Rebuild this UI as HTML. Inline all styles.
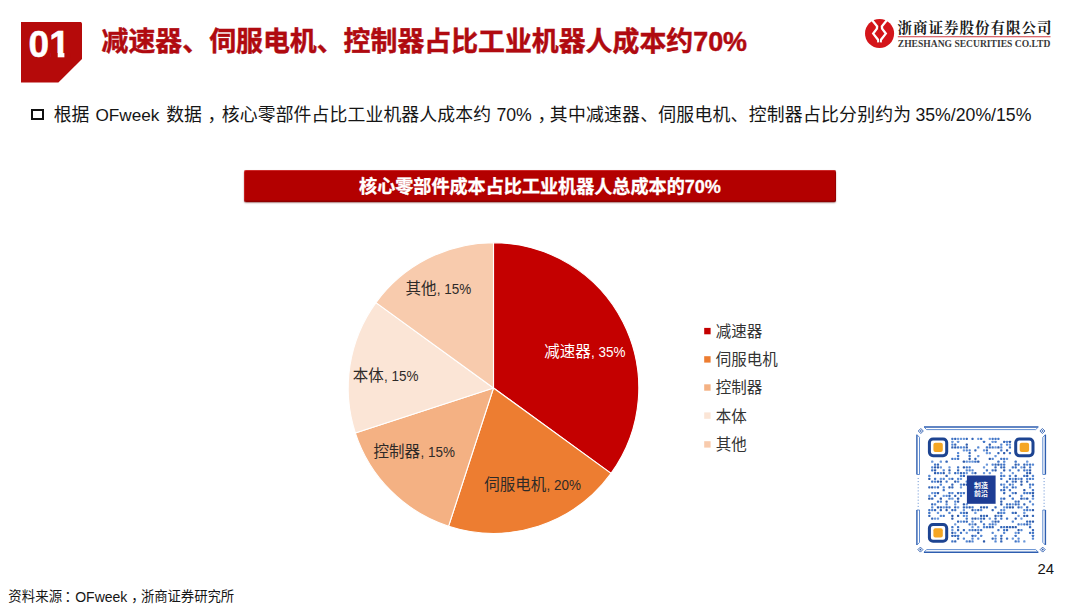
<!DOCTYPE html>
<html lang="zh-CN">
<head>
<meta charset="utf-8">
<title>减速器、伺服电机、控制器占比工业机器人成本约70%</title>
<style>
  html,body{margin:0;padding:0;background:#fff;}
  body{width:1080px;height:608px;position:relative;overflow:hidden;
    font-family:"Liberation Sans","Noto Sans CJK SC",sans-serif;color:#111;}
  .abs{position:absolute;white-space:nowrap;}
  #badge{left:20.9px;top:22.1px;width:61.4px;height:60.5px;}
  #title{left:101.6px;top:23.3px;font-size:26.9px;line-height:38px;font-weight:bold;color:#b00a10;-webkit-text-stroke:0.45px #b00a10;}
  .bl{top:101.7px;font-size:17.85px;line-height:26px;color:#151515;}
  .bl.en{font-size:17.7px;}
  #sq{left:31px;top:108.7px;width:8.7px;height:7.4px;border:2px solid #111;}
  #banner{left:244.3px;top:170.4px;-webkit-text-stroke:0.3px #fff;width:591.4px;height:32px;background:#b30000;color:#fff;border-radius:2px;
    font-weight:bold;font-size:18.1px;line-height:35px;text-align:center;
    box-shadow:inset 0 1px 0 rgba(255,120,120,.35), inset 1px 0 0 rgba(255,120,120,.25), inset 0 -1.5px 0 rgba(90,0,0,.4), inset -1px 0 0 rgba(90,0,0,.3), 0 1px 1.5px rgba(90,0,0,.5);}
  .src{top:587px;font-size:13.4px;line-height:20px;color:#151515;}
  .src.en{font-size:14px;}
  #pageno{left:1037.5px;top:558.8px;font-size:14.9px;line-height:20px;color:#151515;}
  #gfx{left:0;top:0;}
</style>
</head>
<body>

<svg id="badge" class="abs" viewBox="0 0 61.4 60.5">
  <polygon points="0,0 60,0 61.4,1.6 61.4,36.6 37.4,60.5 0,60.5" fill="#b50a0a"/>
  <text x="7.6" y="34.8" font-family="Liberation Sans, sans-serif" font-weight="bold" font-size="37" fill="#fff" stroke="#fff" stroke-width="0.5">01</text>
  <rect x="29.5" y="31" width="7.2" height="5" fill="#b50a0a"/><rect x="43.4" y="31" width="6" height="5" fill="#b50a0a"/>
</svg>

<div id="title" class="abs">减速器、伺服电机、控制器占比工业机器人成本约70%</div>

<div id="sq" class="abs"></div>
<span class="abs bl" style="left:53.7px">根据</span>
<span class="abs bl en" style="left:95.4px;font-size:17.2px">OFweek</span>
<span class="abs bl" style="left:166.2px">数据</span>
<span class="abs bl" style="left:207.4px">，</span>
<span class="abs bl" style="left:221.8px;letter-spacing:.11px">核心零部件占比工业机器人成本约</span>
<span class="abs bl en" style="left:496.4px">70%</span>
<span class="abs bl" style="left:537.4px">，</span>
<span class="abs bl" style="left:549.8px;letter-spacing:.235px">其中减速器、伺服电机、控制器占比分别约为</span>
<span class="abs bl en" style="left:915.4px">35%/20%/15%</span>

<div id="banner" class="abs">核心零部件成本占比工业机器人总成本的70%</div>

<svg id="gfx" class="abs" width="1080" height="608" viewBox="0 0 1080 608" font-family="Liberation Sans, Noto Sans CJK SC, sans-serif">
  <g id="pie">
  <path d="M493.5,388.0 L493.50,242.70 A145.3,145.3 0 0 1 611.05,473.41 Z" fill="#c40000" stroke="#fff" stroke-width="1.1" stroke-linejoin="round"/>
  <path d="M493.5,388.0 L611.05,473.41 A145.3,145.3 0 0 1 448.60,526.19 Z" fill="#ed7d31" stroke="#fff" stroke-width="1.1" stroke-linejoin="round"/>
  <path d="M493.5,388.0 L448.60,526.19 A145.3,145.3 0 0 1 355.31,432.90 Z" fill="#f4b183" stroke="#fff" stroke-width="1.1" stroke-linejoin="round"/>
  <path d="M493.5,388.0 L355.31,432.90 A145.3,145.3 0 0 1 375.95,302.59 Z" fill="#fbe5d6" stroke="#fff" stroke-width="1.1" stroke-linejoin="round"/>
  <path d="M493.5,388.0 L375.95,302.59 A145.3,145.3 0 0 1 493.50,242.70 Z" fill="#f8cbad" stroke="#fff" stroke-width="1.1" stroke-linejoin="round"/>
  </g>
  <g id="labels">
  <text x="544.2" y="356.7" fill="#fff" font-size="15.5">减速器</text><text transform="translate(591.0,356.7) scale(0.93,1)" fill="#fff" font-size="14.5">, 35%</text>
  <text x="484.2" y="490.3" fill="#2e2a28" font-size="15.5">伺服电机</text><text transform="translate(546.5,490.3) scale(0.93,1)" fill="#2e2a28" font-size="14.5">, 20%</text>
  <text x="373.6" y="457.0" fill="#2e2a28" font-size="15.5">控制器</text><text transform="translate(420.4,457.0) scale(0.93,1)" fill="#2e2a28" font-size="14.5">, 15%</text>
  <text x="352.8" y="381.2" fill="#2e2a28" font-size="15.5">本体</text><text transform="translate(384.1,381.2) scale(0.93,1)" fill="#2e2a28" font-size="14.5">, 15%</text>
  <text x="405.4" y="294.3" fill="#2e2a28" font-size="15.5">其他</text><text transform="translate(436.7,294.3) scale(0.93,1)" fill="#2e2a28" font-size="14.5">, 15%</text>
  </g>
  <g id="legend" fill="#333">
  <rect x="704.2" y="327.9" width="6.4" height="6.4" fill="#c40000"/><text x="715.8" y="336.7" font-size="15.5">减速器</text>
  <rect x="704.2" y="356.2" width="6.4" height="6.4" fill="#ed7d31"/><text x="715.8" y="364.9" font-size="15.5">伺服电机</text>
  <rect x="704.2" y="384.3" width="6.4" height="6.4" fill="#f4b183"/><text x="715.8" y="393.0" font-size="15.5">控制器</text>
  <rect x="704.2" y="412.4" width="6.4" height="6.4" fill="#fbe5d6"/><text x="715.8" y="421.5" font-size="15.5">本体</text>
  <rect x="704.2" y="441.2" width="6.4" height="6.4" fill="#f8cbad"/><text x="715.8" y="449.9" font-size="15.5">其他</text>
  </g>
  <g id="logo">
<circle cx="879.55" cy="33.55" r="14.55" fill="#d4151a"/>
<path d="M871.0,18.8 L877.1,26.4 L876.9,28.6 L873.2,33.6 L878.2,40.0 L878.3,42.4" fill="none" stroke="#fff" stroke-width="2.3" stroke-linejoin="miter"/>
<path d="M888.0,18.8 L881.9,26.4 L882.1,28.6 L885.8,33.6 L880.8,40.0 L880.7,42.4" fill="none" stroke="#fff" stroke-width="2.3" stroke-linejoin="miter"/>
<path d="M879.5,24.5 V29.5 M879.5,38.8 V42.6" stroke="#7a1418" stroke-width="0.6"/>
<text x="897.6" y="33.1" font-family="Liberation Serif, Noto Serif CJK SC, serif" font-weight="700" font-size="14.6" fill="#1a1a1a" textLength="154" lengthAdjust="spacing">浙商证券股份有限公司</text>
<path d="M897.8,36.7 H1050.5" stroke="#cf3a3f" stroke-width="1.1"/>
<text x="897.8" y="46.7" font-family="Liberation Serif, serif" font-weight="bold" font-size="10" fill="#3a3a3a" textLength="152.5" lengthAdjust="spacingAndGlyphs">ZHESHANG SECURITIES CO.LTD</text>
</g>
  <g id="qr"><path d="M924.0,427.0 H1038.3 M924.0,552.2 H1038.3" stroke="#2e5eb0" stroke-width="1.4" fill="none"/><path d="M924.0,427.0 L926.6,429.6 H1035.7 L1038.3,427.0 M924.0,552.2 L926.6,549.6 H1035.7 L1038.3,552.2" stroke="#4f80cc" stroke-width="0.9" fill="none"/><path d="M916.9,434.7 V474.5" stroke="#2e5eb0" stroke-width="1.4" fill="none"/><path d="M916.9,434.7 L919.5,437.3 V474.5 H916.9" stroke="#4f80cc" stroke-width="0.9" fill="none"/><path d="M916.9,510.0 V545.0" stroke="#2e5eb0" stroke-width="1.4" fill="none"/><path d="M916.9,510.0 H919.5 V542.4 L916.9,545.0" stroke="#4f80cc" stroke-width="0.9" fill="none"/><path d="M918.1999999999999,478 V507" stroke="#4f80cc" stroke-width="0.9" stroke-dasharray="1 2.1" fill="none"/><path d="M1045.4,434.7 V474.5" stroke="#2e5eb0" stroke-width="1.4" fill="none"/><path d="M1045.4,434.7 L1042.8000000000002,437.3 V474.5 H1045.4" stroke="#4f80cc" stroke-width="0.9" fill="none"/><path d="M1045.4,510.0 V545.0" stroke="#2e5eb0" stroke-width="1.4" fill="none"/><path d="M1045.4,510.0 H1042.8000000000002 V542.4 L1045.4,545.0" stroke="#4f80cc" stroke-width="0.9" fill="none"/><path d="M1044.1000000000001,478 V507" stroke="#4f80cc" stroke-width="0.9" stroke-dasharray="1 2.1" fill="none"/><path d="M920.8,428.5 L923.3,431.0 L920.8,433.5 L918.3,431.0 Z" fill="#fff" stroke="#2e5eb0" stroke-width="0.9"/><path d="M920.8,429.9 L921.9,431.0 L920.8,432.1 L919.6999999999999,431.0 Z" fill="#2e5eb0"/><path d="M1042.4,428.5 L1044.9,431.0 L1042.4,433.5 L1039.9,431.0 Z" fill="#fff" stroke="#2e5eb0" stroke-width="0.9"/><path d="M1042.4,429.9 L1043.5,431.0 L1042.4,432.1 L1041.3000000000002,431.0 Z" fill="#2e5eb0"/><path d="M920.4,547.1 L922.9,549.6 L920.4,552.1 L917.9,549.6 Z" fill="#fff" stroke="#2e5eb0" stroke-width="0.9"/><path d="M920.4,548.5 L921.5,549.6 L920.4,550.7 L919.3,549.6 Z" fill="#2e5eb0"/><path d="M1042.7,547.1 L1045.2,549.6 L1042.7,552.1 L1040.2,549.6 Z" fill="#fff" stroke="#2e5eb0" stroke-width="0.9"/><path d="M1042.7,548.5 L1043.8,549.6 L1042.7,550.7 L1041.6000000000001,549.6 Z" fill="#2e5eb0"/><rect x="951.23" y="437.80" width="2.28" height="2.25" rx="0.7" fill="#4175c6"/><rect x="954.11" y="437.80" width="2.28" height="2.25" rx="0.7" fill="#3466b8"/><rect x="956.98" y="437.80" width="2.28" height="2.25" rx="0.7" fill="#6a97da"/><rect x="959.86" y="437.80" width="2.28" height="2.25" rx="0.7" fill="#6a97da"/><rect x="962.74" y="437.80" width="2.28" height="2.25" rx="0.7" fill="#6a97da"/><rect x="965.62" y="437.80" width="2.28" height="2.25" rx="0.7" fill="#3466b8"/><rect x="971.38" y="437.80" width="2.28" height="2.25" rx="0.7" fill="#3466b8"/><rect x="977.13" y="437.80" width="2.28" height="2.25" rx="0.7" fill="#6a97da"/><rect x="980.01" y="437.80" width="2.28" height="2.25" rx="0.7" fill="#4175c6"/><rect x="988.65" y="437.80" width="2.28" height="2.25" rx="0.7" fill="#6a97da"/><rect x="991.52" y="437.80" width="2.28" height="2.25" rx="0.7" fill="#4175c6"/><rect x="994.40" y="437.80" width="2.28" height="2.25" rx="0.7" fill="#4175c6"/><rect x="997.28" y="437.80" width="2.28" height="2.25" rx="0.7" fill="#4175c6"/><rect x="951.23" y="440.65" width="2.28" height="2.25" rx="0.7" fill="#6a97da"/><rect x="956.98" y="440.65" width="2.28" height="2.25" rx="0.7" fill="#6a97da"/><rect x="982.89" y="440.65" width="2.28" height="2.25" rx="0.7" fill="#4175c6"/><rect x="991.52" y="440.65" width="2.28" height="2.25" rx="0.7" fill="#6a97da"/><rect x="994.40" y="440.65" width="2.28" height="2.25" rx="0.7" fill="#5587d3"/><rect x="1003.04" y="440.65" width="2.28" height="2.25" rx="0.7" fill="#3466b8"/><rect x="1005.92" y="440.65" width="2.28" height="2.25" rx="0.7" fill="#5587d3"/><rect x="1008.79" y="440.65" width="2.28" height="2.25" rx="0.7" fill="#2d5bab"/><rect x="951.23" y="443.50" width="2.28" height="2.25" rx="0.7" fill="#5587d3"/><rect x="954.11" y="443.50" width="2.28" height="2.25" rx="0.7" fill="#3466b8"/><rect x="965.62" y="443.50" width="2.28" height="2.25" rx="0.7" fill="#2d5bab"/><rect x="988.65" y="443.50" width="2.28" height="2.25" rx="0.7" fill="#2d5bab"/><rect x="1000.16" y="443.50" width="2.28" height="2.25" rx="0.7" fill="#5587d3"/><rect x="1005.92" y="443.50" width="2.28" height="2.25" rx="0.7" fill="#5587d3"/><rect x="1008.79" y="443.50" width="2.28" height="2.25" rx="0.7" fill="#6a97da"/><rect x="951.23" y="446.35" width="2.28" height="2.25" rx="0.7" fill="#3466b8"/><rect x="954.11" y="446.35" width="2.28" height="2.25" rx="0.7" fill="#2d5bab"/><rect x="956.98" y="446.35" width="2.28" height="2.25" rx="0.7" fill="#4175c6"/><rect x="959.86" y="446.35" width="2.28" height="2.25" rx="0.7" fill="#5587d3"/><rect x="962.74" y="446.35" width="2.28" height="2.25" rx="0.7" fill="#5587d3"/><rect x="965.62" y="446.35" width="2.28" height="2.25" rx="0.7" fill="#2d5bab"/><rect x="977.13" y="446.35" width="2.28" height="2.25" rx="0.7" fill="#5587d3"/><rect x="985.77" y="446.35" width="2.28" height="2.25" rx="0.7" fill="#4175c6"/><rect x="988.65" y="446.35" width="2.28" height="2.25" rx="0.7" fill="#4175c6"/><rect x="991.52" y="446.35" width="2.28" height="2.25" rx="0.7" fill="#4175c6"/><rect x="994.40" y="446.35" width="2.28" height="2.25" rx="0.7" fill="#6a97da"/><rect x="997.28" y="446.35" width="2.28" height="2.25" rx="0.7" fill="#2d5bab"/><rect x="1000.16" y="446.35" width="2.28" height="2.25" rx="0.7" fill="#5587d3"/><rect x="1008.79" y="446.35" width="2.28" height="2.25" rx="0.7" fill="#4175c6"/><rect x="962.74" y="449.19" width="2.28" height="2.25" rx="0.7" fill="#6a97da"/><rect x="965.62" y="449.19" width="2.28" height="2.25" rx="0.7" fill="#5587d3"/><rect x="968.50" y="449.19" width="2.28" height="2.25" rx="0.7" fill="#5587d3"/><rect x="974.25" y="449.19" width="2.28" height="2.25" rx="0.7" fill="#3466b8"/><rect x="982.89" y="449.19" width="2.28" height="2.25" rx="0.7" fill="#6a97da"/><rect x="985.77" y="449.19" width="2.28" height="2.25" rx="0.7" fill="#3466b8"/><rect x="1000.16" y="449.19" width="2.28" height="2.25" rx="0.7" fill="#4175c6"/><rect x="1005.92" y="449.19" width="2.28" height="2.25" rx="0.7" fill="#2d5bab"/><rect x="956.98" y="452.04" width="2.28" height="2.25" rx="0.7" fill="#5587d3"/><rect x="968.50" y="452.04" width="2.28" height="2.25" rx="0.7" fill="#3466b8"/><rect x="985.77" y="452.04" width="2.28" height="2.25" rx="0.7" fill="#6a97da"/><rect x="988.65" y="452.04" width="2.28" height="2.25" rx="0.7" fill="#6a97da"/><rect x="997.28" y="452.04" width="2.28" height="2.25" rx="0.7" fill="#3466b8"/><rect x="1003.04" y="452.04" width="2.28" height="2.25" rx="0.7" fill="#2d5bab"/><rect x="1008.79" y="452.04" width="2.28" height="2.25" rx="0.7" fill="#4175c6"/><rect x="956.98" y="454.89" width="2.28" height="2.25" rx="0.7" fill="#4175c6"/><rect x="968.50" y="454.89" width="2.28" height="2.25" rx="0.7" fill="#4175c6"/><rect x="977.13" y="454.89" width="2.28" height="2.25" rx="0.7" fill="#6a97da"/><rect x="994.40" y="454.89" width="2.28" height="2.25" rx="0.7" fill="#6a97da"/><rect x="951.23" y="457.74" width="2.28" height="2.25" rx="0.7" fill="#4175c6"/><rect x="954.11" y="457.74" width="2.28" height="2.25" rx="0.7" fill="#5587d3"/><rect x="956.98" y="457.74" width="2.28" height="2.25" rx="0.7" fill="#4175c6"/><rect x="968.50" y="457.74" width="2.28" height="2.25" rx="0.7" fill="#2d5bab"/><rect x="974.25" y="457.74" width="2.28" height="2.25" rx="0.7" fill="#3466b8"/><rect x="988.65" y="457.74" width="2.28" height="2.25" rx="0.7" fill="#2d5bab"/><rect x="991.52" y="457.74" width="2.28" height="2.25" rx="0.7" fill="#5587d3"/><rect x="1000.16" y="457.74" width="2.28" height="2.25" rx="0.7" fill="#4175c6"/><rect x="1003.04" y="457.74" width="2.28" height="2.25" rx="0.7" fill="#4175c6"/><rect x="1005.92" y="457.74" width="2.28" height="2.25" rx="0.7" fill="#6a97da"/><rect x="931.08" y="460.59" width="2.28" height="2.25" rx="0.7" fill="#6a97da"/><rect x="939.71" y="460.59" width="2.28" height="2.25" rx="0.7" fill="#6a97da"/><rect x="945.47" y="460.59" width="2.28" height="2.25" rx="0.7" fill="#3466b8"/><rect x="962.74" y="460.59" width="2.28" height="2.25" rx="0.7" fill="#2d5bab"/><rect x="965.62" y="460.59" width="2.28" height="2.25" rx="0.7" fill="#6a97da"/><rect x="968.50" y="460.59" width="2.28" height="2.25" rx="0.7" fill="#6a97da"/><rect x="971.38" y="460.59" width="2.28" height="2.25" rx="0.7" fill="#6a97da"/><rect x="974.25" y="460.59" width="2.28" height="2.25" rx="0.7" fill="#4175c6"/><rect x="977.13" y="460.59" width="2.28" height="2.25" rx="0.7" fill="#2d5bab"/><rect x="997.28" y="460.59" width="2.28" height="2.25" rx="0.7" fill="#4175c6"/><rect x="1003.04" y="460.59" width="2.28" height="2.25" rx="0.7" fill="#5587d3"/><rect x="1014.55" y="460.59" width="2.28" height="2.25" rx="0.7" fill="#4175c6"/><rect x="1026.06" y="460.59" width="2.28" height="2.25" rx="0.7" fill="#6a97da"/><rect x="933.96" y="463.44" width="2.28" height="2.25" rx="0.7" fill="#4175c6"/><rect x="936.84" y="463.44" width="2.28" height="2.25" rx="0.7" fill="#3466b8"/><rect x="985.77" y="463.44" width="2.28" height="2.25" rx="0.7" fill="#6a97da"/><rect x="991.52" y="463.44" width="2.28" height="2.25" rx="0.7" fill="#5587d3"/><rect x="994.40" y="463.44" width="2.28" height="2.25" rx="0.7" fill="#3466b8"/><rect x="997.28" y="463.44" width="2.28" height="2.25" rx="0.7" fill="#2d5bab"/><rect x="1000.16" y="463.44" width="2.28" height="2.25" rx="0.7" fill="#4175c6"/><rect x="1003.04" y="463.44" width="2.28" height="2.25" rx="0.7" fill="#4175c6"/><rect x="1014.55" y="463.44" width="2.28" height="2.25" rx="0.7" fill="#2d5bab"/><rect x="1017.43" y="463.44" width="2.28" height="2.25" rx="0.7" fill="#4175c6"/><rect x="1023.19" y="463.44" width="2.28" height="2.25" rx="0.7" fill="#3466b8"/><rect x="1026.06" y="463.44" width="2.28" height="2.25" rx="0.7" fill="#5587d3"/><rect x="1028.94" y="463.44" width="2.28" height="2.25" rx="0.7" fill="#4175c6"/><rect x="1031.82" y="463.44" width="2.28" height="2.25" rx="0.7" fill="#5587d3"/><rect x="931.08" y="466.29" width="2.28" height="2.25" rx="0.7" fill="#5587d3"/><rect x="933.96" y="466.29" width="2.28" height="2.25" rx="0.7" fill="#2d5bab"/><rect x="936.84" y="466.29" width="2.28" height="2.25" rx="0.7" fill="#2d5bab"/><rect x="939.71" y="466.29" width="2.28" height="2.25" rx="0.7" fill="#6a97da"/><rect x="948.35" y="466.29" width="2.28" height="2.25" rx="0.7" fill="#6a97da"/><rect x="956.98" y="466.29" width="2.28" height="2.25" rx="0.7" fill="#4175c6"/><rect x="962.74" y="466.29" width="2.28" height="2.25" rx="0.7" fill="#2d5bab"/><rect x="965.62" y="466.29" width="2.28" height="2.25" rx="0.7" fill="#4175c6"/><rect x="968.50" y="466.29" width="2.28" height="2.25" rx="0.7" fill="#4175c6"/><rect x="982.89" y="466.29" width="2.28" height="2.25" rx="0.7" fill="#6a97da"/><rect x="994.40" y="466.29" width="2.28" height="2.25" rx="0.7" fill="#3466b8"/><rect x="1000.16" y="466.29" width="2.28" height="2.25" rx="0.7" fill="#3466b8"/><rect x="1003.04" y="466.29" width="2.28" height="2.25" rx="0.7" fill="#3466b8"/><rect x="1011.67" y="466.29" width="2.28" height="2.25" rx="0.7" fill="#4175c6"/><rect x="1014.55" y="466.29" width="2.28" height="2.25" rx="0.7" fill="#3466b8"/><rect x="1020.31" y="466.29" width="2.28" height="2.25" rx="0.7" fill="#6a97da"/><rect x="1023.19" y="466.29" width="2.28" height="2.25" rx="0.7" fill="#2d5bab"/><rect x="1028.94" y="466.29" width="2.28" height="2.25" rx="0.7" fill="#4175c6"/><rect x="931.08" y="469.14" width="2.28" height="2.25" rx="0.7" fill="#4175c6"/><rect x="933.96" y="469.14" width="2.28" height="2.25" rx="0.7" fill="#2d5bab"/><rect x="942.59" y="469.14" width="2.28" height="2.25" rx="0.7" fill="#5587d3"/><rect x="948.35" y="469.14" width="2.28" height="2.25" rx="0.7" fill="#2d5bab"/><rect x="956.98" y="469.14" width="2.28" height="2.25" rx="0.7" fill="#3466b8"/><rect x="965.62" y="469.14" width="2.28" height="2.25" rx="0.7" fill="#5587d3"/><rect x="968.50" y="469.14" width="2.28" height="2.25" rx="0.7" fill="#5587d3"/><rect x="971.38" y="469.14" width="2.28" height="2.25" rx="0.7" fill="#5587d3"/><rect x="985.77" y="469.14" width="2.28" height="2.25" rx="0.7" fill="#4175c6"/><rect x="991.52" y="469.14" width="2.28" height="2.25" rx="0.7" fill="#4175c6"/><rect x="994.40" y="469.14" width="2.28" height="2.25" rx="0.7" fill="#2d5bab"/><rect x="1003.04" y="469.14" width="2.28" height="2.25" rx="0.7" fill="#2d5bab"/><rect x="1008.79" y="469.14" width="2.28" height="2.25" rx="0.7" fill="#5587d3"/><rect x="1017.43" y="469.14" width="2.28" height="2.25" rx="0.7" fill="#4175c6"/><rect x="1023.19" y="469.14" width="2.28" height="2.25" rx="0.7" fill="#4175c6"/><rect x="1026.06" y="469.14" width="2.28" height="2.25" rx="0.7" fill="#5587d3"/><rect x="1028.94" y="469.14" width="2.28" height="2.25" rx="0.7" fill="#2d5bab"/><rect x="933.96" y="471.98" width="2.28" height="2.25" rx="0.7" fill="#2d5bab"/><rect x="936.84" y="471.98" width="2.28" height="2.25" rx="0.7" fill="#4175c6"/><rect x="939.71" y="471.98" width="2.28" height="2.25" rx="0.7" fill="#5587d3"/><rect x="942.59" y="471.98" width="2.28" height="2.25" rx="0.7" fill="#2d5bab"/><rect x="948.35" y="471.98" width="2.28" height="2.25" rx="0.7" fill="#6a97da"/><rect x="954.11" y="471.98" width="2.28" height="2.25" rx="0.7" fill="#3466b8"/><rect x="956.98" y="471.98" width="2.28" height="2.25" rx="0.7" fill="#6a97da"/><rect x="959.86" y="471.98" width="2.28" height="2.25" rx="0.7" fill="#3466b8"/><rect x="962.74" y="471.98" width="2.28" height="2.25" rx="0.7" fill="#4175c6"/><rect x="965.62" y="471.98" width="2.28" height="2.25" rx="0.7" fill="#6a97da"/><rect x="971.38" y="471.98" width="2.28" height="2.25" rx="0.7" fill="#6a97da"/><rect x="974.25" y="471.98" width="2.28" height="2.25" rx="0.7" fill="#2d5bab"/><rect x="982.89" y="471.98" width="2.28" height="2.25" rx="0.7" fill="#6a97da"/><rect x="988.65" y="471.98" width="2.28" height="2.25" rx="0.7" fill="#6a97da"/><rect x="1000.16" y="471.98" width="2.28" height="2.25" rx="0.7" fill="#6a97da"/><rect x="1011.67" y="471.98" width="2.28" height="2.25" rx="0.7" fill="#6a97da"/><rect x="1026.06" y="471.98" width="2.28" height="2.25" rx="0.7" fill="#3466b8"/><rect x="1028.94" y="471.98" width="2.28" height="2.25" rx="0.7" fill="#2d5bab"/><rect x="928.20" y="474.83" width="2.28" height="2.25" rx="0.7" fill="#5587d3"/><rect x="945.47" y="474.83" width="2.28" height="2.25" rx="0.7" fill="#3466b8"/><rect x="959.86" y="474.83" width="2.28" height="2.25" rx="0.7" fill="#5587d3"/><rect x="962.74" y="474.83" width="2.28" height="2.25" rx="0.7" fill="#3466b8"/><rect x="1000.16" y="474.83" width="2.28" height="2.25" rx="0.7" fill="#4175c6"/><rect x="1003.04" y="474.83" width="2.28" height="2.25" rx="0.7" fill="#5587d3"/><rect x="1008.79" y="474.83" width="2.28" height="2.25" rx="0.7" fill="#5587d3"/><rect x="1014.55" y="474.83" width="2.28" height="2.25" rx="0.7" fill="#3466b8"/><rect x="1023.19" y="474.83" width="2.28" height="2.25" rx="0.7" fill="#4175c6"/><rect x="1026.06" y="474.83" width="2.28" height="2.25" rx="0.7" fill="#2d5bab"/><rect x="1031.82" y="474.83" width="2.28" height="2.25" rx="0.7" fill="#5587d3"/><rect x="928.20" y="477.68" width="2.28" height="2.25" rx="0.7" fill="#2d5bab"/><rect x="933.96" y="477.68" width="2.28" height="2.25" rx="0.7" fill="#4175c6"/><rect x="939.71" y="477.68" width="2.28" height="2.25" rx="0.7" fill="#6a97da"/><rect x="942.59" y="477.68" width="2.28" height="2.25" rx="0.7" fill="#5587d3"/><rect x="948.35" y="477.68" width="2.28" height="2.25" rx="0.7" fill="#6a97da"/><rect x="951.23" y="477.68" width="2.28" height="2.25" rx="0.7" fill="#3466b8"/><rect x="956.98" y="477.68" width="2.28" height="2.25" rx="0.7" fill="#5587d3"/><rect x="959.86" y="477.68" width="2.28" height="2.25" rx="0.7" fill="#6a97da"/><rect x="1000.16" y="477.68" width="2.28" height="2.25" rx="0.7" fill="#4175c6"/><rect x="1008.79" y="477.68" width="2.28" height="2.25" rx="0.7" fill="#3466b8"/><rect x="1011.67" y="477.68" width="2.28" height="2.25" rx="0.7" fill="#6a97da"/><rect x="1014.55" y="477.68" width="2.28" height="2.25" rx="0.7" fill="#2d5bab"/><rect x="1017.43" y="477.68" width="2.28" height="2.25" rx="0.7" fill="#6a97da"/><rect x="1020.31" y="477.68" width="2.28" height="2.25" rx="0.7" fill="#3466b8"/><rect x="1026.06" y="477.68" width="2.28" height="2.25" rx="0.7" fill="#5587d3"/><rect x="1028.94" y="477.68" width="2.28" height="2.25" rx="0.7" fill="#4175c6"/><rect x="1031.82" y="477.68" width="2.28" height="2.25" rx="0.7" fill="#5587d3"/><rect x="931.08" y="480.53" width="2.28" height="2.25" rx="0.7" fill="#4175c6"/><rect x="933.96" y="480.53" width="2.28" height="2.25" rx="0.7" fill="#5587d3"/><rect x="936.84" y="480.53" width="2.28" height="2.25" rx="0.7" fill="#2d5bab"/><rect x="939.71" y="480.53" width="2.28" height="2.25" rx="0.7" fill="#2d5bab"/><rect x="945.47" y="480.53" width="2.28" height="2.25" rx="0.7" fill="#4175c6"/><rect x="954.11" y="480.53" width="2.28" height="2.25" rx="0.7" fill="#2d5bab"/><rect x="956.98" y="480.53" width="2.28" height="2.25" rx="0.7" fill="#5587d3"/><rect x="965.62" y="480.53" width="2.28" height="2.25" rx="0.7" fill="#5587d3"/><rect x="1005.92" y="480.53" width="2.28" height="2.25" rx="0.7" fill="#3466b8"/><rect x="1011.67" y="480.53" width="2.28" height="2.25" rx="0.7" fill="#4175c6"/><rect x="1014.55" y="480.53" width="2.28" height="2.25" rx="0.7" fill="#2d5bab"/><rect x="1020.31" y="480.53" width="2.28" height="2.25" rx="0.7" fill="#2d5bab"/><rect x="1026.06" y="480.53" width="2.28" height="2.25" rx="0.7" fill="#3466b8"/><rect x="939.71" y="483.38" width="2.28" height="2.25" rx="0.7" fill="#5587d3"/><rect x="951.23" y="483.38" width="2.28" height="2.25" rx="0.7" fill="#3466b8"/><rect x="959.86" y="483.38" width="2.28" height="2.25" rx="0.7" fill="#5587d3"/><rect x="962.74" y="483.38" width="2.28" height="2.25" rx="0.7" fill="#2d5bab"/><rect x="965.62" y="483.38" width="2.28" height="2.25" rx="0.7" fill="#2d5bab"/><rect x="1000.16" y="483.38" width="2.28" height="2.25" rx="0.7" fill="#4175c6"/><rect x="1003.04" y="483.38" width="2.28" height="2.25" rx="0.7" fill="#6a97da"/><rect x="1008.79" y="483.38" width="2.28" height="2.25" rx="0.7" fill="#4175c6"/><rect x="1011.67" y="483.38" width="2.28" height="2.25" rx="0.7" fill="#6a97da"/><rect x="1020.31" y="483.38" width="2.28" height="2.25" rx="0.7" fill="#2d5bab"/><rect x="1028.94" y="483.38" width="2.28" height="2.25" rx="0.7" fill="#4175c6"/><rect x="1031.82" y="483.38" width="2.28" height="2.25" rx="0.7" fill="#4175c6"/><rect x="928.20" y="486.23" width="2.28" height="2.25" rx="0.7" fill="#3466b8"/><rect x="931.08" y="486.23" width="2.28" height="2.25" rx="0.7" fill="#2d5bab"/><rect x="933.96" y="486.23" width="2.28" height="2.25" rx="0.7" fill="#6a97da"/><rect x="936.84" y="486.23" width="2.28" height="2.25" rx="0.7" fill="#3466b8"/><rect x="942.59" y="486.23" width="2.28" height="2.25" rx="0.7" fill="#5587d3"/><rect x="948.35" y="486.23" width="2.28" height="2.25" rx="0.7" fill="#2d5bab"/><rect x="951.23" y="486.23" width="2.28" height="2.25" rx="0.7" fill="#3466b8"/><rect x="959.86" y="486.23" width="2.28" height="2.25" rx="0.7" fill="#6a97da"/><rect x="1003.04" y="486.23" width="2.28" height="2.25" rx="0.7" fill="#4175c6"/><rect x="1005.92" y="486.23" width="2.28" height="2.25" rx="0.7" fill="#5587d3"/><rect x="1011.67" y="486.23" width="2.28" height="2.25" rx="0.7" fill="#3466b8"/><rect x="1014.55" y="486.23" width="2.28" height="2.25" rx="0.7" fill="#5587d3"/><rect x="1028.94" y="486.23" width="2.28" height="2.25" rx="0.7" fill="#5587d3"/><rect x="942.59" y="489.08" width="2.28" height="2.25" rx="0.7" fill="#4175c6"/><rect x="1000.16" y="489.08" width="2.28" height="2.25" rx="0.7" fill="#4175c6"/><rect x="1003.04" y="489.08" width="2.28" height="2.25" rx="0.7" fill="#3466b8"/><rect x="1008.79" y="489.08" width="2.28" height="2.25" rx="0.7" fill="#4175c6"/><rect x="1023.19" y="489.08" width="2.28" height="2.25" rx="0.7" fill="#2d5bab"/><rect x="1031.82" y="489.08" width="2.28" height="2.25" rx="0.7" fill="#4175c6"/><rect x="931.08" y="491.92" width="2.28" height="2.25" rx="0.7" fill="#6a97da"/><rect x="933.96" y="491.92" width="2.28" height="2.25" rx="0.7" fill="#5587d3"/><rect x="936.84" y="491.92" width="2.28" height="2.25" rx="0.7" fill="#2d5bab"/><rect x="948.35" y="491.92" width="2.28" height="2.25" rx="0.7" fill="#4175c6"/><rect x="951.23" y="491.92" width="2.28" height="2.25" rx="0.7" fill="#5587d3"/><rect x="956.98" y="491.92" width="2.28" height="2.25" rx="0.7" fill="#3466b8"/><rect x="959.86" y="491.92" width="2.28" height="2.25" rx="0.7" fill="#5587d3"/><rect x="962.74" y="491.92" width="2.28" height="2.25" rx="0.7" fill="#4175c6"/><rect x="1003.04" y="491.92" width="2.28" height="2.25" rx="0.7" fill="#3466b8"/><rect x="1011.67" y="491.92" width="2.28" height="2.25" rx="0.7" fill="#5587d3"/><rect x="1014.55" y="491.92" width="2.28" height="2.25" rx="0.7" fill="#2d5bab"/><rect x="1023.19" y="491.92" width="2.28" height="2.25" rx="0.7" fill="#4175c6"/><rect x="1026.06" y="491.92" width="2.28" height="2.25" rx="0.7" fill="#4175c6"/><rect x="1028.94" y="491.92" width="2.28" height="2.25" rx="0.7" fill="#4175c6"/><rect x="1031.82" y="491.92" width="2.28" height="2.25" rx="0.7" fill="#2d5bab"/><rect x="928.20" y="494.77" width="2.28" height="2.25" rx="0.7" fill="#6a97da"/><rect x="933.96" y="494.77" width="2.28" height="2.25" rx="0.7" fill="#4175c6"/><rect x="942.59" y="494.77" width="2.28" height="2.25" rx="0.7" fill="#6a97da"/><rect x="945.47" y="494.77" width="2.28" height="2.25" rx="0.7" fill="#5587d3"/><rect x="948.35" y="494.77" width="2.28" height="2.25" rx="0.7" fill="#3466b8"/><rect x="954.11" y="494.77" width="2.28" height="2.25" rx="0.7" fill="#3466b8"/><rect x="959.86" y="494.77" width="2.28" height="2.25" rx="0.7" fill="#5587d3"/><rect x="1008.79" y="494.77" width="2.28" height="2.25" rx="0.7" fill="#4175c6"/><rect x="1020.31" y="494.77" width="2.28" height="2.25" rx="0.7" fill="#5587d3"/><rect x="1031.82" y="494.77" width="2.28" height="2.25" rx="0.7" fill="#3466b8"/><rect x="928.20" y="497.62" width="2.28" height="2.25" rx="0.7" fill="#2d5bab"/><rect x="931.08" y="497.62" width="2.28" height="2.25" rx="0.7" fill="#3466b8"/><rect x="939.71" y="497.62" width="2.28" height="2.25" rx="0.7" fill="#2d5bab"/><rect x="948.35" y="497.62" width="2.28" height="2.25" rx="0.7" fill="#5587d3"/><rect x="951.23" y="497.62" width="2.28" height="2.25" rx="0.7" fill="#6a97da"/><rect x="956.98" y="497.62" width="2.28" height="2.25" rx="0.7" fill="#2d5bab"/><rect x="1000.16" y="497.62" width="2.28" height="2.25" rx="0.7" fill="#5587d3"/><rect x="1003.04" y="497.62" width="2.28" height="2.25" rx="0.7" fill="#3466b8"/><rect x="1011.67" y="497.62" width="2.28" height="2.25" rx="0.7" fill="#4175c6"/><rect x="1020.31" y="497.62" width="2.28" height="2.25" rx="0.7" fill="#2d5bab"/><rect x="1023.19" y="497.62" width="2.28" height="2.25" rx="0.7" fill="#6a97da"/><rect x="1026.06" y="497.62" width="2.28" height="2.25" rx="0.7" fill="#2d5bab"/><rect x="1031.82" y="497.62" width="2.28" height="2.25" rx="0.7" fill="#6a97da"/><rect x="936.84" y="500.47" width="2.28" height="2.25" rx="0.7" fill="#4175c6"/><rect x="939.71" y="500.47" width="2.28" height="2.25" rx="0.7" fill="#5587d3"/><rect x="945.47" y="500.47" width="2.28" height="2.25" rx="0.7" fill="#2d5bab"/><rect x="954.11" y="500.47" width="2.28" height="2.25" rx="0.7" fill="#5587d3"/><rect x="956.98" y="500.47" width="2.28" height="2.25" rx="0.7" fill="#2d5bab"/><rect x="1000.16" y="500.47" width="2.28" height="2.25" rx="0.7" fill="#2d5bab"/><rect x="1014.55" y="500.47" width="2.28" height="2.25" rx="0.7" fill="#4175c6"/><rect x="1017.43" y="500.47" width="2.28" height="2.25" rx="0.7" fill="#3466b8"/><rect x="1028.94" y="500.47" width="2.28" height="2.25" rx="0.7" fill="#5587d3"/><rect x="931.08" y="503.32" width="2.28" height="2.25" rx="0.7" fill="#3466b8"/><rect x="933.96" y="503.32" width="2.28" height="2.25" rx="0.7" fill="#5587d3"/><rect x="945.47" y="503.32" width="2.28" height="2.25" rx="0.7" fill="#5587d3"/><rect x="954.11" y="503.32" width="2.28" height="2.25" rx="0.7" fill="#6a97da"/><rect x="962.74" y="503.32" width="2.28" height="2.25" rx="0.7" fill="#2d5bab"/><rect x="965.62" y="503.32" width="2.28" height="2.25" rx="0.7" fill="#6a97da"/><rect x="1000.16" y="503.32" width="2.28" height="2.25" rx="0.7" fill="#2d5bab"/><rect x="1005.92" y="503.32" width="2.28" height="2.25" rx="0.7" fill="#4175c6"/><rect x="1008.79" y="503.32" width="2.28" height="2.25" rx="0.7" fill="#4175c6"/><rect x="1011.67" y="503.32" width="2.28" height="2.25" rx="0.7" fill="#6a97da"/><rect x="1014.55" y="503.32" width="2.28" height="2.25" rx="0.7" fill="#3466b8"/><rect x="1017.43" y="503.32" width="2.28" height="2.25" rx="0.7" fill="#4175c6"/><rect x="1023.19" y="503.32" width="2.28" height="2.25" rx="0.7" fill="#3466b8"/><rect x="1031.82" y="503.32" width="2.28" height="2.25" rx="0.7" fill="#5587d3"/><rect x="931.08" y="506.17" width="2.28" height="2.25" rx="0.7" fill="#5587d3"/><rect x="936.84" y="506.17" width="2.28" height="2.25" rx="0.7" fill="#2d5bab"/><rect x="939.71" y="506.17" width="2.28" height="2.25" rx="0.7" fill="#3466b8"/><rect x="942.59" y="506.17" width="2.28" height="2.25" rx="0.7" fill="#6a97da"/><rect x="945.47" y="506.17" width="2.28" height="2.25" rx="0.7" fill="#3466b8"/><rect x="948.35" y="506.17" width="2.28" height="2.25" rx="0.7" fill="#4175c6"/><rect x="954.11" y="506.17" width="2.28" height="2.25" rx="0.7" fill="#3466b8"/><rect x="956.98" y="506.17" width="2.28" height="2.25" rx="0.7" fill="#6a97da"/><rect x="962.74" y="506.17" width="2.28" height="2.25" rx="0.7" fill="#3466b8"/><rect x="965.62" y="506.17" width="2.28" height="2.25" rx="0.7" fill="#4175c6"/><rect x="968.50" y="506.17" width="2.28" height="2.25" rx="0.7" fill="#2d5bab"/><rect x="971.38" y="506.17" width="2.28" height="2.25" rx="0.7" fill="#4175c6"/><rect x="980.01" y="506.17" width="2.28" height="2.25" rx="0.7" fill="#2d5bab"/><rect x="982.89" y="506.17" width="2.28" height="2.25" rx="0.7" fill="#2d5bab"/><rect x="985.77" y="506.17" width="2.28" height="2.25" rx="0.7" fill="#3466b8"/><rect x="994.40" y="506.17" width="2.28" height="2.25" rx="0.7" fill="#3466b8"/><rect x="1003.04" y="506.17" width="2.28" height="2.25" rx="0.7" fill="#6a97da"/><rect x="1005.92" y="506.17" width="2.28" height="2.25" rx="0.7" fill="#4175c6"/><rect x="1008.79" y="506.17" width="2.28" height="2.25" rx="0.7" fill="#2d5bab"/><rect x="1011.67" y="506.17" width="2.28" height="2.25" rx="0.7" fill="#2d5bab"/><rect x="1017.43" y="506.17" width="2.28" height="2.25" rx="0.7" fill="#3466b8"/><rect x="1020.31" y="506.17" width="2.28" height="2.25" rx="0.7" fill="#6a97da"/><rect x="1026.06" y="506.17" width="2.28" height="2.25" rx="0.7" fill="#3466b8"/><rect x="928.20" y="509.02" width="2.28" height="2.25" rx="0.7" fill="#4175c6"/><rect x="931.08" y="509.02" width="2.28" height="2.25" rx="0.7" fill="#5587d3"/><rect x="933.96" y="509.02" width="2.28" height="2.25" rx="0.7" fill="#3466b8"/><rect x="939.71" y="509.02" width="2.28" height="2.25" rx="0.7" fill="#3466b8"/><rect x="945.47" y="509.02" width="2.28" height="2.25" rx="0.7" fill="#2d5bab"/><rect x="951.23" y="509.02" width="2.28" height="2.25" rx="0.7" fill="#3466b8"/><rect x="954.11" y="509.02" width="2.28" height="2.25" rx="0.7" fill="#4175c6"/><rect x="962.74" y="509.02" width="2.28" height="2.25" rx="0.7" fill="#6a97da"/><rect x="971.38" y="509.02" width="2.28" height="2.25" rx="0.7" fill="#2d5bab"/><rect x="974.25" y="509.02" width="2.28" height="2.25" rx="0.7" fill="#6a97da"/><rect x="977.13" y="509.02" width="2.28" height="2.25" rx="0.7" fill="#3466b8"/><rect x="980.01" y="509.02" width="2.28" height="2.25" rx="0.7" fill="#5587d3"/><rect x="991.52" y="509.02" width="2.28" height="2.25" rx="0.7" fill="#3466b8"/><rect x="1000.16" y="509.02" width="2.28" height="2.25" rx="0.7" fill="#5587d3"/><rect x="1003.04" y="509.02" width="2.28" height="2.25" rx="0.7" fill="#6a97da"/><rect x="1023.19" y="509.02" width="2.28" height="2.25" rx="0.7" fill="#5587d3"/><rect x="1026.06" y="509.02" width="2.28" height="2.25" rx="0.7" fill="#4175c6"/><rect x="1028.94" y="509.02" width="2.28" height="2.25" rx="0.7" fill="#6a97da"/><rect x="1031.82" y="509.02" width="2.28" height="2.25" rx="0.7" fill="#2d5bab"/><rect x="928.20" y="511.86" width="2.28" height="2.25" rx="0.7" fill="#4175c6"/><rect x="936.84" y="511.86" width="2.28" height="2.25" rx="0.7" fill="#6a97da"/><rect x="948.35" y="511.86" width="2.28" height="2.25" rx="0.7" fill="#5587d3"/><rect x="959.86" y="511.86" width="2.28" height="2.25" rx="0.7" fill="#5587d3"/><rect x="962.74" y="511.86" width="2.28" height="2.25" rx="0.7" fill="#4175c6"/><rect x="965.62" y="511.86" width="2.28" height="2.25" rx="0.7" fill="#2d5bab"/><rect x="974.25" y="511.86" width="2.28" height="2.25" rx="0.7" fill="#6a97da"/><rect x="997.28" y="511.86" width="2.28" height="2.25" rx="0.7" fill="#3466b8"/><rect x="1000.16" y="511.86" width="2.28" height="2.25" rx="0.7" fill="#5587d3"/><rect x="1003.04" y="511.86" width="2.28" height="2.25" rx="0.7" fill="#5587d3"/><rect x="1011.67" y="511.86" width="2.28" height="2.25" rx="0.7" fill="#4175c6"/><rect x="1014.55" y="511.86" width="2.28" height="2.25" rx="0.7" fill="#2d5bab"/><rect x="1023.19" y="511.86" width="2.28" height="2.25" rx="0.7" fill="#6a97da"/><rect x="928.20" y="514.71" width="2.28" height="2.25" rx="0.7" fill="#3466b8"/><rect x="939.71" y="514.71" width="2.28" height="2.25" rx="0.7" fill="#5587d3"/><rect x="942.59" y="514.71" width="2.28" height="2.25" rx="0.7" fill="#4175c6"/><rect x="951.23" y="514.71" width="2.28" height="2.25" rx="0.7" fill="#2d5bab"/><rect x="956.98" y="514.71" width="2.28" height="2.25" rx="0.7" fill="#2d5bab"/><rect x="962.74" y="514.71" width="2.28" height="2.25" rx="0.7" fill="#5587d3"/><rect x="965.62" y="514.71" width="2.28" height="2.25" rx="0.7" fill="#6a97da"/><rect x="980.01" y="514.71" width="2.28" height="2.25" rx="0.7" fill="#2d5bab"/><rect x="982.89" y="514.71" width="2.28" height="2.25" rx="0.7" fill="#4175c6"/><rect x="985.77" y="514.71" width="2.28" height="2.25" rx="0.7" fill="#2d5bab"/><rect x="994.40" y="514.71" width="2.28" height="2.25" rx="0.7" fill="#2d5bab"/><rect x="997.28" y="514.71" width="2.28" height="2.25" rx="0.7" fill="#6a97da"/><rect x="1000.16" y="514.71" width="2.28" height="2.25" rx="0.7" fill="#2d5bab"/><rect x="1017.43" y="514.71" width="2.28" height="2.25" rx="0.7" fill="#6a97da"/><rect x="1023.19" y="514.71" width="2.28" height="2.25" rx="0.7" fill="#2d5bab"/><rect x="1026.06" y="514.71" width="2.28" height="2.25" rx="0.7" fill="#2d5bab"/><rect x="1031.82" y="514.71" width="2.28" height="2.25" rx="0.7" fill="#3466b8"/><rect x="931.08" y="517.56" width="2.28" height="2.25" rx="0.7" fill="#3466b8"/><rect x="933.96" y="517.56" width="2.28" height="2.25" rx="0.7" fill="#6a97da"/><rect x="936.84" y="517.56" width="2.28" height="2.25" rx="0.7" fill="#6a97da"/><rect x="951.23" y="517.56" width="2.28" height="2.25" rx="0.7" fill="#2d5bab"/><rect x="965.62" y="517.56" width="2.28" height="2.25" rx="0.7" fill="#4175c6"/><rect x="971.38" y="517.56" width="2.28" height="2.25" rx="0.7" fill="#3466b8"/><rect x="974.25" y="517.56" width="2.28" height="2.25" rx="0.7" fill="#2d5bab"/><rect x="977.13" y="517.56" width="2.28" height="2.25" rx="0.7" fill="#6a97da"/><rect x="980.01" y="517.56" width="2.28" height="2.25" rx="0.7" fill="#4175c6"/><rect x="982.89" y="517.56" width="2.28" height="2.25" rx="0.7" fill="#2d5bab"/><rect x="988.65" y="517.56" width="2.28" height="2.25" rx="0.7" fill="#6a97da"/><rect x="994.40" y="517.56" width="2.28" height="2.25" rx="0.7" fill="#3466b8"/><rect x="1000.16" y="517.56" width="2.28" height="2.25" rx="0.7" fill="#4175c6"/><rect x="1005.92" y="517.56" width="2.28" height="2.25" rx="0.7" fill="#4175c6"/><rect x="1014.55" y="517.56" width="2.28" height="2.25" rx="0.7" fill="#2d5bab"/><rect x="1020.31" y="517.56" width="2.28" height="2.25" rx="0.7" fill="#6a97da"/><rect x="956.98" y="520.41" width="2.28" height="2.25" rx="0.7" fill="#3466b8"/><rect x="959.86" y="520.41" width="2.28" height="2.25" rx="0.7" fill="#6a97da"/><rect x="962.74" y="520.41" width="2.28" height="2.25" rx="0.7" fill="#4175c6"/><rect x="965.62" y="520.41" width="2.28" height="2.25" rx="0.7" fill="#3466b8"/><rect x="971.38" y="520.41" width="2.28" height="2.25" rx="0.7" fill="#6a97da"/><rect x="980.01" y="520.41" width="2.28" height="2.25" rx="0.7" fill="#4175c6"/><rect x="991.52" y="520.41" width="2.28" height="2.25" rx="0.7" fill="#6a97da"/><rect x="994.40" y="520.41" width="2.28" height="2.25" rx="0.7" fill="#2d5bab"/><rect x="997.28" y="520.41" width="2.28" height="2.25" rx="0.7" fill="#3466b8"/><rect x="1011.67" y="520.41" width="2.28" height="2.25" rx="0.7" fill="#5587d3"/><rect x="1026.06" y="520.41" width="2.28" height="2.25" rx="0.7" fill="#3466b8"/><rect x="1028.94" y="520.41" width="2.28" height="2.25" rx="0.7" fill="#3466b8"/><rect x="1031.82" y="520.41" width="2.28" height="2.25" rx="0.7" fill="#2d5bab"/><rect x="954.11" y="523.26" width="2.28" height="2.25" rx="0.7" fill="#6a97da"/><rect x="968.50" y="523.26" width="2.28" height="2.25" rx="0.7" fill="#4175c6"/><rect x="971.38" y="523.26" width="2.28" height="2.25" rx="0.7" fill="#6a97da"/><rect x="974.25" y="523.26" width="2.28" height="2.25" rx="0.7" fill="#2d5bab"/><rect x="982.89" y="523.26" width="2.28" height="2.25" rx="0.7" fill="#4175c6"/><rect x="988.65" y="523.26" width="2.28" height="2.25" rx="0.7" fill="#5587d3"/><rect x="991.52" y="523.26" width="2.28" height="2.25" rx="0.7" fill="#4175c6"/><rect x="994.40" y="523.26" width="2.28" height="2.25" rx="0.7" fill="#6a97da"/><rect x="1017.43" y="523.26" width="2.28" height="2.25" rx="0.7" fill="#4175c6"/><rect x="1020.31" y="523.26" width="2.28" height="2.25" rx="0.7" fill="#6a97da"/><rect x="1023.19" y="523.26" width="2.28" height="2.25" rx="0.7" fill="#4175c6"/><rect x="1026.06" y="523.26" width="2.28" height="2.25" rx="0.7" fill="#3466b8"/><rect x="1028.94" y="523.26" width="2.28" height="2.25" rx="0.7" fill="#6a97da"/><rect x="951.23" y="526.11" width="2.28" height="2.25" rx="0.7" fill="#4175c6"/><rect x="956.98" y="526.11" width="2.28" height="2.25" rx="0.7" fill="#4175c6"/><rect x="971.38" y="526.11" width="2.28" height="2.25" rx="0.7" fill="#6a97da"/><rect x="977.13" y="526.11" width="2.28" height="2.25" rx="0.7" fill="#6a97da"/><rect x="982.89" y="526.11" width="2.28" height="2.25" rx="0.7" fill="#5587d3"/><rect x="985.77" y="526.11" width="2.28" height="2.25" rx="0.7" fill="#4175c6"/><rect x="988.65" y="526.11" width="2.28" height="2.25" rx="0.7" fill="#3466b8"/><rect x="991.52" y="526.11" width="2.28" height="2.25" rx="0.7" fill="#3466b8"/><rect x="1000.16" y="526.11" width="2.28" height="2.25" rx="0.7" fill="#3466b8"/><rect x="1003.04" y="526.11" width="2.28" height="2.25" rx="0.7" fill="#4175c6"/><rect x="1005.92" y="526.11" width="2.28" height="2.25" rx="0.7" fill="#2d5bab"/><rect x="1008.79" y="526.11" width="2.28" height="2.25" rx="0.7" fill="#3466b8"/><rect x="1011.67" y="526.11" width="2.28" height="2.25" rx="0.7" fill="#2d5bab"/><rect x="1014.55" y="526.11" width="2.28" height="2.25" rx="0.7" fill="#2d5bab"/><rect x="1028.94" y="526.11" width="2.28" height="2.25" rx="0.7" fill="#3466b8"/><rect x="951.23" y="528.96" width="2.28" height="2.25" rx="0.7" fill="#6a97da"/><rect x="956.98" y="528.96" width="2.28" height="2.25" rx="0.7" fill="#3466b8"/><rect x="962.74" y="528.96" width="2.28" height="2.25" rx="0.7" fill="#3466b8"/><rect x="968.50" y="528.96" width="2.28" height="2.25" rx="0.7" fill="#5587d3"/><rect x="971.38" y="528.96" width="2.28" height="2.25" rx="0.7" fill="#4175c6"/><rect x="974.25" y="528.96" width="2.28" height="2.25" rx="0.7" fill="#3466b8"/><rect x="977.13" y="528.96" width="2.28" height="2.25" rx="0.7" fill="#5587d3"/><rect x="980.01" y="528.96" width="2.28" height="2.25" rx="0.7" fill="#4175c6"/><rect x="997.28" y="528.96" width="2.28" height="2.25" rx="0.7" fill="#4175c6"/><rect x="1003.04" y="528.96" width="2.28" height="2.25" rx="0.7" fill="#4175c6"/><rect x="1005.92" y="528.96" width="2.28" height="2.25" rx="0.7" fill="#3466b8"/><rect x="1017.43" y="528.96" width="2.28" height="2.25" rx="0.7" fill="#2d5bab"/><rect x="1020.31" y="528.96" width="2.28" height="2.25" rx="0.7" fill="#5587d3"/><rect x="1031.82" y="528.96" width="2.28" height="2.25" rx="0.7" fill="#3466b8"/><rect x="951.23" y="531.81" width="2.28" height="2.25" rx="0.7" fill="#2d5bab"/><rect x="954.11" y="531.81" width="2.28" height="2.25" rx="0.7" fill="#6a97da"/><rect x="959.86" y="531.81" width="2.28" height="2.25" rx="0.7" fill="#4175c6"/><rect x="965.62" y="531.81" width="2.28" height="2.25" rx="0.7" fill="#6a97da"/><rect x="977.13" y="531.81" width="2.28" height="2.25" rx="0.7" fill="#2d5bab"/><rect x="991.52" y="531.81" width="2.28" height="2.25" rx="0.7" fill="#5587d3"/><rect x="1003.04" y="531.81" width="2.28" height="2.25" rx="0.7" fill="#5587d3"/><rect x="1014.55" y="531.81" width="2.28" height="2.25" rx="0.7" fill="#6a97da"/><rect x="1017.43" y="531.81" width="2.28" height="2.25" rx="0.7" fill="#4175c6"/><rect x="1028.94" y="531.81" width="2.28" height="2.25" rx="0.7" fill="#4175c6"/><rect x="1031.82" y="531.81" width="2.28" height="2.25" rx="0.7" fill="#4175c6"/><rect x="951.23" y="534.65" width="2.28" height="2.25" rx="0.7" fill="#3466b8"/><rect x="954.11" y="534.65" width="2.28" height="2.25" rx="0.7" fill="#3466b8"/><rect x="956.98" y="534.65" width="2.28" height="2.25" rx="0.7" fill="#4175c6"/><rect x="971.38" y="534.65" width="2.28" height="2.25" rx="0.7" fill="#3466b8"/><rect x="974.25" y="534.65" width="2.28" height="2.25" rx="0.7" fill="#5587d3"/><rect x="980.01" y="534.65" width="2.28" height="2.25" rx="0.7" fill="#5587d3"/><rect x="994.40" y="534.65" width="2.28" height="2.25" rx="0.7" fill="#6a97da"/><rect x="1000.16" y="534.65" width="2.28" height="2.25" rx="0.7" fill="#4175c6"/><rect x="1014.55" y="534.65" width="2.28" height="2.25" rx="0.7" fill="#4175c6"/><rect x="1031.82" y="534.65" width="2.28" height="2.25" rx="0.7" fill="#4175c6"/><rect x="956.98" y="537.50" width="2.28" height="2.25" rx="0.7" fill="#3466b8"/><rect x="962.74" y="537.50" width="2.28" height="2.25" rx="0.7" fill="#5587d3"/><rect x="971.38" y="537.50" width="2.28" height="2.25" rx="0.7" fill="#5587d3"/><rect x="977.13" y="537.50" width="2.28" height="2.25" rx="0.7" fill="#5587d3"/><rect x="991.52" y="537.50" width="2.28" height="2.25" rx="0.7" fill="#3466b8"/><rect x="994.40" y="537.50" width="2.28" height="2.25" rx="0.7" fill="#5587d3"/><rect x="1000.16" y="537.50" width="2.28" height="2.25" rx="0.7" fill="#2d5bab"/><rect x="1005.92" y="537.50" width="2.28" height="2.25" rx="0.7" fill="#4175c6"/><rect x="1011.67" y="537.50" width="2.28" height="2.25" rx="0.7" fill="#6a97da"/><rect x="1017.43" y="537.50" width="2.28" height="2.25" rx="0.7" fill="#5587d3"/><rect x="1031.82" y="537.50" width="2.28" height="2.25" rx="0.7" fill="#5587d3"/><rect x="951.23" y="540.35" width="2.28" height="2.25" rx="0.7" fill="#4175c6"/><rect x="954.11" y="540.35" width="2.28" height="2.25" rx="0.7" fill="#3466b8"/><rect x="965.62" y="540.35" width="2.28" height="2.25" rx="0.7" fill="#5587d3"/><rect x="968.50" y="540.35" width="2.28" height="2.25" rx="0.7" fill="#3466b8"/><rect x="971.38" y="540.35" width="2.28" height="2.25" rx="0.7" fill="#5587d3"/><rect x="982.89" y="540.35" width="2.28" height="2.25" rx="0.7" fill="#2d5bab"/><rect x="994.40" y="540.35" width="2.28" height="2.25" rx="0.7" fill="#5587d3"/><rect x="1000.16" y="540.35" width="2.28" height="2.25" rx="0.7" fill="#3466b8"/><rect x="1014.55" y="540.35" width="2.28" height="2.25" rx="0.7" fill="#4175c6"/><rect x="1017.43" y="540.35" width="2.28" height="2.25" rx="0.7" fill="#5587d3"/><rect x="1023.19" y="540.35" width="2.28" height="2.25" rx="0.7" fill="#6a97da"/><rect x="929.4" y="438.9" width="17.3" height="16.8" rx="3.6" fill="#fff" stroke="#1d4491" stroke-width="3"/><rect x="933.4" y="442.7" width="9.4" height="9.3" rx="2" fill="#f5a623"/><rect x="1015.7" y="438.9" width="17.3" height="16.8" rx="3.6" fill="#fff" stroke="#1d4491" stroke-width="3"/><rect x="1019.7" y="442.7" width="9.4" height="9.3" rx="2" fill="#f5a623"/><rect x="929.4" y="524.5" width="17.3" height="16.8" rx="3.6" fill="#fff" stroke="#1d4491" stroke-width="3"/><rect x="933.4" y="528.3" width="9.4" height="9.3" rx="2" fill="#f5a623"/><rect x="966.9" y="475.5" width="28.7" height="28.3" fill="#1d3c94"/><text x="981.0" y="487.6" text-anchor="middle" font-size="6.9" font-weight="bold" fill="#fff">制造</text><text x="981.0" y="496.4" text-anchor="middle" font-size="6.9" font-weight="bold" fill="#fff">前沿</text></g>
</svg>

<span class="abs src" style="left:8.2px;letter-spacing:0.15px">资料来源</span>
<span class="abs src" style="left:64.6px">：</span>
<span class="abs src en" style="left:75.2px">OFweek</span>
<span class="abs src" style="left:131.3px">，</span>
<span class="abs src" style="left:141px;letter-spacing:-0.1px">浙商证券研究所</span>
<div id="pageno" class="abs">24</div>

</body>
</html>
